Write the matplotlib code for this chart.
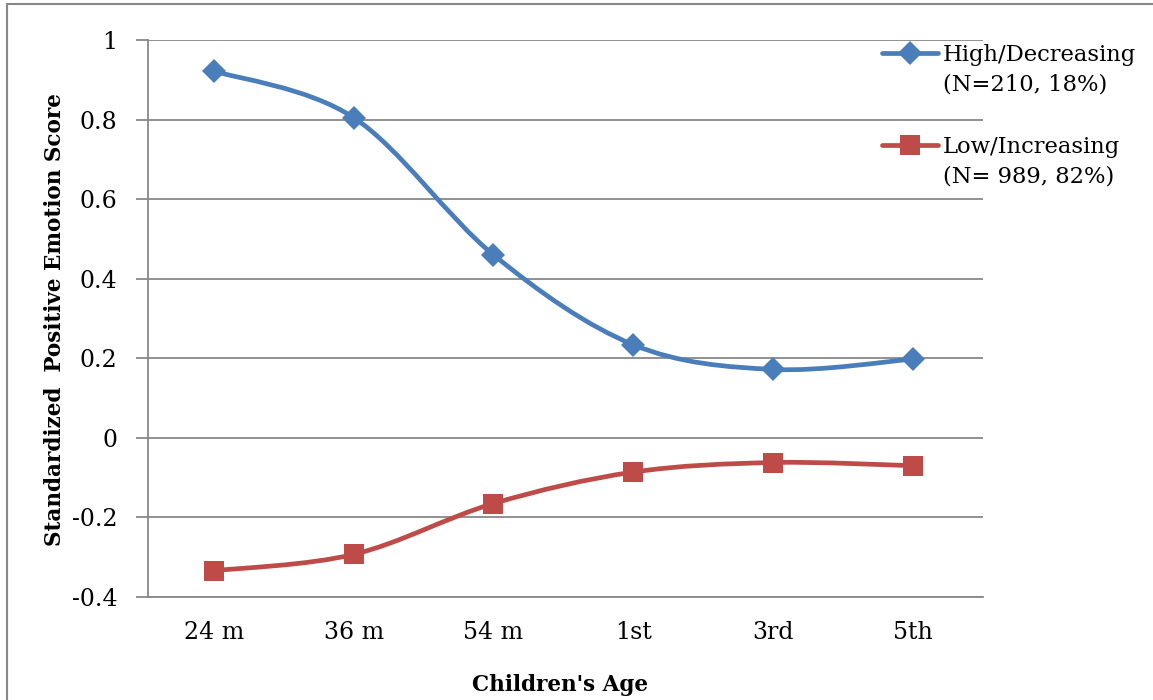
import matplotlib
matplotlib.use("Agg")
import matplotlib.pyplot as plt
from matplotlib.path import Path
from matplotlib.patches import PathPatch
from matplotlib.lines import Line2D

# -----------------------------
# data
# -----------------------------
ages = ["24 m", "36 m", "54 m", "1st", "3rd", "5th"]
high_decreasing = [0.922, 0.805, 0.460, 0.234, 0.172, 0.198]
low_increasing = [-0.334, -0.293, -0.165, -0.086, -0.062, -0.070]
y_ticks = [-0.4, -0.2, 0, 0.2, 0.4, 0.6, 0.8, 1]
y_tick_labels = ["-0.4", "-0.2", "0", "0.2", "0.4", "0.6", "0.8", "1"]
series_labels = ["High/Decreasing\n(N=210, 18%)", "Low/Increasing\n(N= 989, 82%)"]

BLUE = "#4A7EBB"
RED = "#BE4B48"
GRAY = "#888888"
FONT = "DejaVu Serif"


# excel style smoothed line (bezier through the points)
def smooth_path(xs, ys):
    pts = list(zip(xs, ys))
    verts = [pts[0]]
    codes = [Path.MOVETO]
    n = len(pts)
    for i in range(n - 1):
        p0 = pts[i - 1] if i > 0 else pts[i]
        p1 = pts[i]
        p2 = pts[i + 1]
        p3 = pts[i + 2] if i + 2 < n else pts[i + 1]
        c1 = (p1[0] + (p2[0] - p0[0]) / 6, p1[1] + (p2[1] - p0[1]) / 6)
        c2 = (p2[0] - (p3[0] - p1[0]) / 6, p2[1] - (p3[1] - p1[1]) / 6)
        verts += [c1, c2, p2]
        codes += [Path.CURVE4] * 3
    return Path(verts, codes)


fig = plt.figure(figsize=(11.53, 7.0), dpi=100)
ax = fig.add_axes([148 / 1153, 1 - 597 / 700, 835 / 1153, 557 / 700])

x = list(range(len(ages)))
for vals, color, marker, ms in [(high_decreasing, BLUE, "D", 12),
                                (low_increasing, RED, "s", 14)]:
    patch = PathPatch(smooth_path(x, vals), facecolor="none", edgecolor=color,
                      lw=3.4, capstyle="round", joinstyle="round", zorder=3)
    ax.add_patch(patch)
    ax.plot(x, vals, linestyle="none", marker=marker, ms=ms, color=color,
            markeredgewidth=0, zorder=4)

ax.set_xlim(-0.47, 5.5)
ax.set_ylim(-0.4, 1)
ax.set_yticks(y_ticks)
ax.set_yticklabels(y_tick_labels)
ax.set_xticks(x)
ax.set_xticklabels(ages)
ax.grid(axis="y", color=GRAY, lw=1.3)
ax.set_axisbelow(True)
for side in ["top", "right"]:
    ax.spines[side].set_visible(False)
for side in ["left", "bottom"]:
    ax.spines[side].set_color(GRAY)
    ax.spines[side].set_linewidth(1.3)
ax.tick_params(axis="y", length=9, width=1.3, color=GRAY, pad=13, labelsize=17)
ax.tick_params(axis="x", length=0, pad=17, labelsize=17)
for lab in ax.get_xticklabels() + ax.get_yticklabels():
    lab.set_fontfamily(FONT)

fig.text(560 / 1153, 1 - 685 / 700, "Children's Age", ha="center", va="center",
         fontsize=15.5, fontweight="bold", family=FONT)
fig.text(55 / 1153, 1 - 320 / 700, "Standardized  Positive Emotion Score",
         ha="center", va="center", rotation=90, fontsize=15.5, fontweight="bold",
         family=FONT)

# legend drawn by hand so the handle sits on the first line of the label
for (ly, color, marker, ms), label in zip([(53, BLUE, "D", 12), (145, RED, "s", 14)],
                                          series_labels):
    yy = 1 - ly / 700
    fig.add_artist(Line2D([882 / 1153, 938 / 1153], [yy, yy], color=color, lw=3.4,
                          solid_capstyle="round"))
    fig.add_artist(Line2D([910 / 1153], [yy], marker=marker, ms=ms, color=color,
                          markeredgewidth=0, linestyle="none"))
    fig.text(943 / 1153, 1 - (ly - 9) / 700, label, ha="left", va="top",
             fontsize=16.3, family=FONT, linespacing=1.45)

# outer chart border (left and top visible)
fig.add_artist(Line2D([7 / 1153, 7 / 1153], [0, 1 - 4 / 700], color=GRAY, lw=1.5))
fig.add_artist(Line2D([7 / 1153, 1], [1 - 4 / 700, 1 - 4 / 700], color=GRAY, lw=1.5))

fig.savefig("out.png", dpi=100)
